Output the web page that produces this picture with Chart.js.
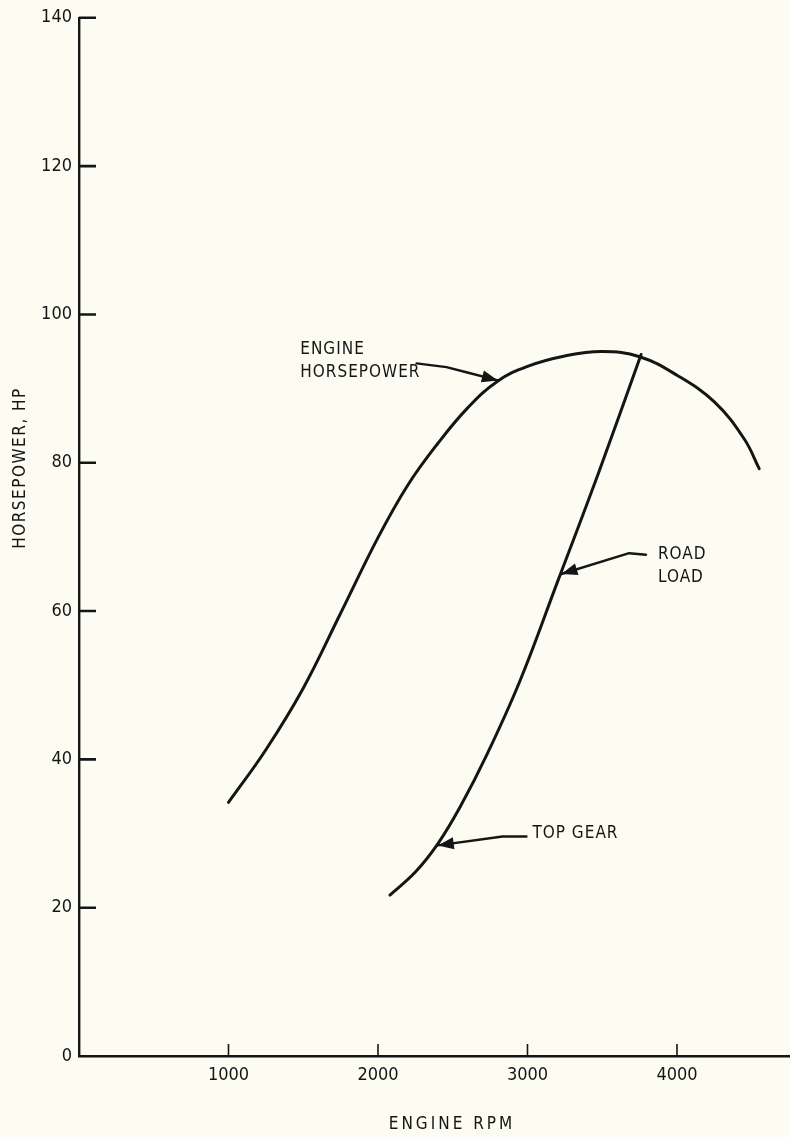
<!DOCTYPE html>
<html>
<head>
<meta charset="utf-8">
<script src="https://cdn.jsdelivr.net/npm/chart.js@4.4.1/dist/chart.umd.min.js"></script>
<style>
  html, body { margin: 0; padding: 0; background: #fcfcf3; }
  #wrap { width: 790px; height: 1137px; position: relative; }
</style>
</head>
<body>
<div id="wrap"><canvas id="c"></canvas></div>
<script>
// ---- data ----
const engineRpm = [1000, 1250, 1500, 1750, 2000, 2200, 2400, 2600, 2800, 3000, 3250, 3500, 3750, 4000, 4250, 4450, 4550];
const engineHp  = [34.2, 41.3, 49.6, 59.7, 69.9, 77.0, 82.6, 87.4, 91.0, 93.0, 94.4, 95.0, 94.3, 91.8, 88.2, 83.2, 79.2];
const roadRpm = [2080, 2250, 2400, 2550, 2730, 2950, 3200, 3480, 3760];
const roadHp  = [21.7, 24.8, 28.6, 33.6, 40.7, 50.6, 63.9, 78.9, 94.6];
const xTickValues = [1000, 2000, 3000, 4000];
const yTickValues = [0, 20, 40, 60, 80, 100, 120, 140];
const xTitle = 'ENGINE RPM';
const yTitle = 'HORSEPOWER, HP';
const engineLabel = ['ENGINE', 'HORSEPOWER'];
const roadLabel = ['ROAD', 'LOAD'];
const gearLabel = ['TOP GEAR'];

// ---- annotation placement (data coordinates) ----
const notes = [
  { text: engineLabel, at: [1480, 95.2], arrow: [[2258, 93.4], [2458, 92.9], [2591, 92.2], [2802, 91.1]] },
  { text: roadLabel,   at: [3873, 67.6], arrow: [[3793, 67.6], [3680, 67.8], [3227, 65.0]] },
  { text: gearLabel,   at: [3033, 30.0], arrow: [[2993, 29.6], [2833, 29.6], [2400, 28.4]] }
];

const FONT = '"DejaVu Sans Condensed", "DejaVu Sans", sans-serif';
const INK = '#151515';

const toPts = (xs, ys) => xs.map((x, i) => ({ x: x, y: ys[i] }));

const decor = {
  id: 'decor',
  afterDraw(chart) {
    const ctx = chart.ctx, xs = chart.scales.x, ys = chart.scales.y, a = chart.chartArea;
    ctx.save();
    ctx.strokeStyle = INK;
    ctx.fillStyle = INK;
    // inward y ticks
    ctx.lineWidth = 2.6;
    ctx.beginPath();
    yTickValues.forEach(v => {
      if (v === 0) return;
      const p = ys.getPixelForValue(v);
      ctx.moveTo(a.left, p); ctx.lineTo(a.left + 17, p);
    });
    ctx.stroke();
    // inward x ticks
    ctx.lineWidth = 1.6;
    ctx.beginPath();
    xTickValues.forEach(v => {
      const p = xs.getPixelForValue(v);
      ctx.moveTo(p, a.bottom); ctx.lineTo(p, a.bottom - 12);
    });
    ctx.stroke();

    // axis titles
    ctx.font = '17px ' + FONT;
    ctx.textAlign = 'center';
    ctx.textBaseline = 'middle';
    try { ctx.letterSpacing = '3px'; } catch (e) {}
    ctx.fillText(xTitle, 452, 1125);
    ctx.save();
    ctx.translate(21, 468);
    ctx.rotate(-Math.PI / 2);
    try { ctx.letterSpacing = '1.5px'; } catch (e) {}
    ctx.fillText(yTitle, 0, 0);
    ctx.restore();

    // annotations
    ctx.textAlign = 'left';
    try { ctx.letterSpacing = '1px'; } catch (e) {}
    notes.forEach(n => {
      const lx = xs.getPixelForValue(n.at[0]);
      const ly = ys.getPixelForValue(n.at[1]);
      n.text.forEach((t, i) => ctx.fillText(t, lx, ly + i * 23));
      const pts = n.arrow.map(p => [xs.getPixelForValue(p[0]), ys.getPixelForValue(p[1])]);
      ctx.lineWidth = 2.4;
      ctx.lineCap = 'round';
      ctx.lineJoin = 'round';
      ctx.beginPath();
      ctx.moveTo(pts[0][0], pts[0][1]);
      for (let i = 1; i < pts.length; i++) ctx.lineTo(pts[i][0], pts[i][1]);
      ctx.stroke();
      const tip = pts[pts.length - 1], prev = pts[pts.length - 2];
      const ang = Math.atan2(tip[1] - prev[1], tip[0] - prev[0]);
      const L = 16, W = 6;
      ctx.beginPath();
      ctx.moveTo(tip[0], tip[1]);
      ctx.lineTo(tip[0] - L * Math.cos(ang) + W * Math.sin(ang), tip[1] - L * Math.sin(ang) - W * Math.cos(ang));
      ctx.lineTo(tip[0] - L * Math.cos(ang) - W * Math.sin(ang), tip[1] - L * Math.sin(ang) + W * Math.cos(ang));
      ctx.closePath();
      ctx.fill();
    });
    ctx.restore();
  }
};

new Chart(document.getElementById('c'), {
  type: 'line',
  data: {
    datasets: [
      { label: 'Engine horsepower', data: toPts(engineRpm, engineHp) },
      { label: 'Road load, top gear', data: toPts(roadRpm, roadHp) }
    ]
  },
  options: {
    responsive: true,
    maintainAspectRatio: false,
    animation: false,
    layout: { padding: { top: 15, right: 0, bottom: 0, left: 0 } },
    elements: {
      line: { borderColor: INK, borderWidth: 3, tension: 0.4, fill: false, borderCapStyle: 'round', borderJoinStyle: 'round' },
      point: { radius: 0, hoverRadius: 0 }
    },
    plugins: { legend: { display: false }, tooltip: { enabled: false } },
    events: [],
    scales: {
      x: {
        type: 'linear',
        min: 0,
        max: 4756,
        afterFit: s => { s.height = 81; },
        grid: { display: false, drawTicks: false },
        border: { display: true, color: INK, width: 2.4 },
        afterBuildTicks: s => { s.ticks = xTickValues.map(v => ({ value: v })); },
        ticks: {
          padding: 9, maxRotation: 0, autoSkip: false, color: INK,
          font: { family: FONT, size: 18 },
          callback: v => String(v)
        }
      },
      y: {
        type: 'linear',
        min: 0,
        max: 140,
        afterFit: s => { s.width = 79; },
        grid: { display: false, drawTicks: false },
        border: { display: true, color: INK, width: 2.4 },
        afterBuildTicks: s => { s.ticks = yTickValues.map(v => ({ value: v })); },
        ticks: {
          padding: 7, color: INK,
          font: { family: FONT, size: 18 },
          callback: v => String(v)
        }
      }
    }
  },
  plugins: [decor]
});
</script>
</body>
</html>
